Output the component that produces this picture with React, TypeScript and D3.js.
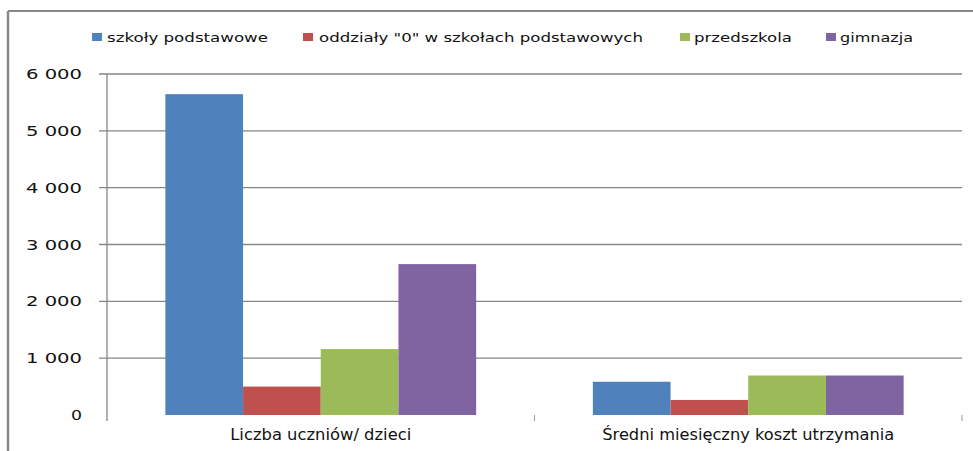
import React from "react";
import * as d3 from "d3";

const categories = ["Liczba uczniów/ dzieci", "Średni miesięczny koszt utrzymania"];
const seriesNames = ["szkoły podstawowe", "oddziały \"0\" w szkołach podstawowych", "przedszkola", "gimnazja"];
const seriesColors = ["#4F81BD", "#C0504D", "#9BBB59", "#8064A2"];
const szkolyPodstawowe = [5645, 585];
const oddzialyZero = [500, 265];
const przedszkola = [1160, 695];
const gimnazja = [2655, 695];
const yTicks = [0, 1000, 2000, 3000, 4000, 5000, 6000];
const yTickLabels = ["0", "1 000", "2 000", "3 000", "4 000", "5 000", "6 000"];

const W = 973;
const H = 451;
const FONT = "'DejaVu Sans', Verdana, sans-serif";

export default function App() {
  const series = [szkolyPodstawowe, oddzialyZero, przedszkola, gimnazja];
  const x0 = d3.scaleBand<string>().domain(categories).range([107, 962]).paddingInner(0).paddingOuter(0);
  const bw = x0.bandwidth();
  const x1 = d3
    .scaleBand<number>()
    .domain(d3.range(seriesNames.length))
    .range([bw * 0.1365, bw * 0.8635])
    .padding(0);
  const y = d3.scaleLinear().domain([0, 6000]).range([415, 74]);

  const legendItems = [
    { sx: 92, tx: 107, tl: 161 },
    { sx: 303, tx: 319, tl: 324 },
    { sx: 680, tx: 694, tl: 98 },
    { sx: 826, tx: 840, tl: 73 },
  ];
  const yLabelWidths = [11, 56, 56, 56, 56, 56, 56];
  const catLabelWidths = [181, 292];

  return (
    <svg
      width={W}
      height={H}
      style={{ position: "absolute", left: 0, top: 0, background: "#fff" }}
      fontFamily={FONT}
    >
      <rect x={0} y={0} width={W} height={H} fill="#fff" />
      {/* outer frame */}
      <line x1={8} y1={11} x2={W} y2={11} stroke="#888" strokeWidth={2} />
      <line x1={8} y1={11} x2={8} y2={H} stroke="#888" strokeWidth={2.5} />

      {/* legend */}
      {seriesNames.map((name, i) => (
        <g key={name}>
          <rect x={legendItems[i].sx} y={33} width={10} height={8} fill={seriesColors[i]} />
          <text
            x={legendItems[i].tx}
            y={42}
            fontSize={13}
            fill="#111"
            textLength={legendItems[i].tl}
            lengthAdjust="spacingAndGlyphs"
          >
            {name}
          </text>
        </g>
      ))}

      {/* gridlines */}
      {yTicks.map((t) =>
        t === 0 ? null : (
          <line key={t} x1={99} x2={962} y1={y(t)} y2={y(t)} stroke="#868686" strokeWidth={1.3} />
        )
      )}
      {/* y tick labels */}
      {yTicks.map((t, i) => (
        <text
          key={"l" + t}
          x={82}
          y={y(t)}
          dy="0.36em"
          textAnchor="end"
          fontSize={14}
          fill="#111"
          textLength={yLabelWidths[i]}
          lengthAdjust="spacingAndGlyphs"
        >
          {yTickLabels[i]}
        </text>
      ))}

      {/* bars */}
      {categories.map((c, ci) => (
        <g key={c} transform={`translate(${x0(c)},0)`}>
          {series.map((s, si) => (
            <rect
              key={si}
              x={x1(si)}
              y={y(s[ci])}
              width={x1.bandwidth()}
              height={y(0) - y(s[ci])}
              fill={seriesColors[si]}
            />
          ))}
        </g>
      ))}

      {/* y axis */}
      <line x1={107} x2={107} y1={74} y2={421} stroke="#868686" strokeWidth={1.3} />
      {/* x ticks */}
      {categories.map((c) => (
        <line
          key={"t" + c}
          x1={(x0(c) as number) + bw}
          x2={(x0(c) as number) + bw}
          y1={415}
          y2={421}
          stroke="#9a9a9a"
          strokeWidth={1}
        />
      ))}
      {/* category labels */}
      {categories.map((c, ci) => (
        <text
          key={"c" + c}
          x={(x0(c) as number) + bw / 2}
          y={440}
          textAnchor="middle"
          fontSize={15}
          fill="#111"
          textLength={catLabelWidths[ci]}
          lengthAdjust="spacingAndGlyphs"
        >
          {c}
        </text>
      ))}
    </svg>
  );
}
